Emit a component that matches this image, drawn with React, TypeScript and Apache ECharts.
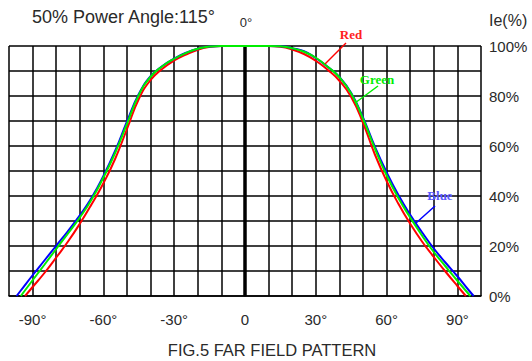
import React, { useEffect, useRef } from "react";
import * as echarts from "echarts";

// Angle (deg) / relative intensity (%) pairs
const redData: [number, number][] = [
  [-93.2, 0], [-90, 3.6], [-85, 9.2], [-80, 15.4], [-75, 21.8], [-70, 28.9],
  [-65, 36.7], [-60, 45.1], [-55, 54.9], [-50, 66.8], [-45, 78.8], [-40, 86.4],
  [-35, 90.9], [-30, 94.2], [-25, 96.6], [-20, 98.5], [-15, 99.6], [-10, 100],
  [-5, 100], [0, 100], [5, 100], [10, 100], [15, 99.7], [20, 98.6], [25, 96.8],
  [30, 94.1], [35, 90.5], [40, 86.1], [45, 79.6], [50, 69.3], [55, 56.7], [60, 46],
  [65, 36.9], [70, 28.9], [75, 21.8], [80, 15.6], [85, 9.7], [90, 4], [93.6, 0],
];
const blueData: [number, number][] = [
  [-96.8, 0], [-95, 2.2], [-90, 8.3], [-85, 14.2], [-80, 20.1], [-75, 26], [-70, 32.3],
  [-65, 39.3], [-60, 48], [-55, 58.1], [-50, 69.8], [-45, 80.8], [-40, 87.9],
  [-35, 92], [-30, 95], [-25, 97.3], [-20, 98.9], [-15, 99.8], [-10, 100],
  [-5, 100], [0, 100], [5, 100], [10, 100], [15, 99.9], [20, 99.1], [25, 97.9],
  [30, 95.2], [35, 91.7], [40, 87.6], [45, 81.2], [50, 71.4], [55, 59.8], [60, 49.5],
  [65, 40.4], [70, 32.5], [75, 25.5], [80, 19], [85, 13.3], [90, 7.9], [95, 2.1], [96.9, 0],
];
const greenData: [number, number][] = [
  [-95, 0], [-90, 6.3], [-85, 12.5], [-80, 18.8], [-75, 25], [-70, 31.4],
  [-65, 38.6], [-60, 47.4], [-55, 57.3], [-50, 68.9], [-45, 80.4], [-40, 87.7],
  [-35, 91.9], [-30, 94.9], [-25, 97.2], [-20, 98.9], [-15, 99.8], [-10, 100],
  [-5, 100], [0, 100], [5, 100], [10, 100], [15, 99.9], [20, 99.1], [25, 97.7],
  [30, 95.3], [35, 91.7], [40, 87.5], [45, 81], [50, 70.9], [55, 59.1], [60, 48.3],
  [65, 39.2], [70, 31.4], [75, 24.2], [80, 17.6], [85, 11.8], [90, 6.1], [95.5, 0],
];
const centerLine: [number, number][] = [[0, 0], [0, 100]];

const xLabelValues = [-90, -60, -30, 0, 30, 60, 90];
const yLabelValues = [0, 20, 40, 60, 80, 100];

const titleText = "50% Power Angle:115°";
const captionText = "FIG.5 FAR FIELD PATTERN";
const yUnitText = "Ie(%)";
const zeroText = "0°";

export default function App() {
  const ref = useRef<HTMLDivElement>(null);
  useEffect(() => {
    if (!ref.current) return;
    const chart = echarts.init(ref.current, undefined, { renderer: "svg" });
    const font = "'Liberation Sans', Arial, sans-serif";
    const serif = "'Liberation Serif', 'Times New Roman', serif";
    const grid = "#000";
    const curve = (name: string, data: [number, number][], color: string, z: number) => ({
      name,
      type: "line",
      data,
      smooth: 0.5,
      symbol: "none",
      lineStyle: { color, width: 2 },
      z,
    });
    chart.setOption({
      animation: false,
      backgroundColor: "#fff",
      grid: { left: 9, right: 51, top: 46, bottom: 65 },
      xAxis: {
        type: "value",
        min: -100,
        max: 100,
        interval: 10,
        axisLine: { show: true, onZero: false, lineStyle: { color: grid, width: 1.5 } },
        axisTick: { show: false },
        splitLine: { show: true, lineStyle: { color: grid, width: 1.5 } },
        axisLabel: {
          margin: 16,
          fontSize: 15,
          fontFamily: font,
          color: "#2a2a2a",
          formatter: (v: number) =>
            xLabelValues.includes(v) ? (v === 0 ? "0" : v + "°") : "",
        },
      },
      yAxis: {
        type: "value",
        position: "right",
        min: 0,
        max: 100,
        interval: 10,
        axisLine: { show: true, lineStyle: { color: grid, width: 1.5 } },
        axisTick: { show: false },
        splitLine: { show: true, lineStyle: { color: grid, width: 1.5 } },
        axisLabel: {
          margin: 8,
          fontSize: 15,
          fontFamily: font,
          color: "#2a2a2a",
          formatter: (v: number) => (yLabelValues.includes(v) ? v + "%" : ""),
        },
      },
      series: [
        {
          type: "line",
          data: centerLine,
          symbol: "none",
          lineStyle: { color: "#000", width: 3.5 },
          z: 1,
          silent: true,
        },
        curve("Red", redData, "#ff0000", 3),
        curve("Blue", blueData, "#0000ff", 4),
        curve("Green", greenData, "#00ee00", 5),
      ],
      graphic: [
        {
          type: "text",
          left: 32,
          top: 8,
          style: { text: titleText, font: `18px ${font}`, fill: "#2a2a2a" },
        },
        {
          type: "text",
          x: 246,
          y: 22,
          style: { text: zeroText, font: `13px ${font}`, fill: "#2a2a2a", align: "center", verticalAlign: "middle" },
        },
        {
          type: "text",
          x: 489,
          y: 20,
          style: { text: yUnitText, font: `16px ${font}`, fill: "#2a2a2a", verticalAlign: "middle" },
        },
        {
          type: "text",
          x: 272,
          y: 350,
          style: { text: captionText, font: `16.5px ${font}`, fill: "#2a2a2a", align: "center", verticalAlign: "middle" },
        },
        {
          type: "text",
          x: 351,
          y: 34,
          z: 10,
          style: { text: "Red", font: `bold 13px ${serif}`, fill: "#ff2020", align: "center", verticalAlign: "middle" },
        },
        {
          type: "line",
          z: 10,
          shape: { x1: 346, y1: 43, x2: 325, y2: 64 },
          style: { stroke: "#ff0000", lineWidth: 1.5 },
        },
        {
          type: "text",
          x: 377,
          y: 79,
          z: 10,
          style: { text: "Green", font: `bold 13px ${serif}`, fill: "#00ee00", align: "center", verticalAlign: "middle" },
        },
        {
          type: "line",
          z: 10,
          shape: { x1: 378, y1: 86, x2: 355, y2: 103 },
          style: { stroke: "#00ee00", lineWidth: 1.5 },
        },
        {
          type: "text",
          x: 440,
          y: 195,
          z: 10,
          style: { text: "Blue", font: `bold 13px ${serif}`, fill: "#5a5aff", align: "center", verticalAlign: "middle" },
        },
        {
          type: "line",
          z: 10,
          shape: { x1: 435, y1: 206, x2: 416, y2: 223 },
          style: { stroke: "#0000ff", lineWidth: 1.5 },
        },
      ],
    });
    return () => chart.dispose();
  }, []);
  return (
    <div
      ref={ref}
      style={{ position: "fixed", left: 0, top: 0, width: 532, height: 361, background: "#fff" }}
    />
  );
}
